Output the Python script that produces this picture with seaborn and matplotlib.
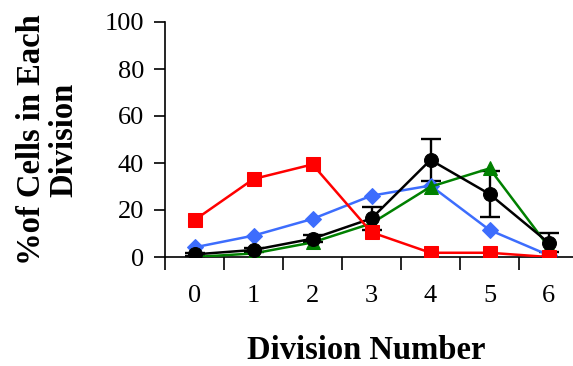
import matplotlib
matplotlib.use("Agg")
import matplotlib.pyplot as plt
import seaborn as sns
import pandas as pd
import numpy as np

divisions = [0, 1, 2, 3, 4, 5, 6]
tick_labels = ["0", "1", "2", "3", "4", "5", "6"]
blue_vals = [4.1, 9.1, 16.2, 26.1, 30.4, 11.5, 0.8]
green_vals = [0.0, 1.5, 6.2, 14.3, 29.9, 37.7, 4.4]
black_vals = [1.1, 3.0, 7.8, 16.4, 41.3, 26.8, 6.1]
black_err = [0.5, 0.8, 1.5, 4.7, 8.8, 9.8, 4.0]
red_vals = [15.7, 33.2, 39.4, 10.5, 1.8, 1.8, 0.0]

series = [
    ("blue", blue_vals, "#3d6dfd", "D", 8.5),
    ("green", green_vals, "#008000", "^", 10),
    ("black", black_vals, "#000000", "o", 10),
    ("red", red_vals, "#ff0000", "s", 9.5),
]

sns.set_style("ticks")
plt.rcParams["font.family"] = ["Liberation Serif", "DejaVu Serif"]
plt.rcParams["text.color"] = "black"
plt.rcParams["axes.labelcolor"] = "black"
plt.rcParams["xtick.color"] = "black"
plt.rcParams["ytick.color"] = "black"

fig = plt.figure(figsize=(5.73, 3.66), dpi=100)
ax = fig.add_axes([165 / 573, 1 - 257 / 366, 413 / 573, 235 / 366])

for name, vals, color, marker, ms in series:
    df = pd.DataFrame({"Division": divisions, "Pct": vals})
    if name == "black":
        ax.errorbar(divisions, vals, yerr=black_err, fmt="none", ecolor="black",
                    elinewidth=1.7, capsize=7.5, capthick=1.7, zorder=2)
    sns.lineplot(data=df, x="Division", y="Pct", ax=ax, color=color,
                 marker=marker, markersize=ms, markeredgecolor=color,
                 linewidth=1.8, errorbar=None, zorder=3)

ax.set_xlim(-0.5, 6.5)
ax.set_ylim(0, 100)
ax.set_yticks([0, 20, 40, 60, 80, 100])
ax.set_xticks(np.arange(-0.5, 6.5, 1.0))
ax.set_xticklabels([])
ax.set_xticks(divisions, minor=True)
ax.set_xticklabels(tick_labels, minor=True)
ax.tick_params(axis="x", which="minor", length=0, pad=20, labelsize=19)
ax.tick_params(axis="x", which="major", length=9, width=1.2, direction="out")
ax.tick_params(axis="y", length=8, width=1.2, direction="out", pad=7, labelsize=19)
for s in ["top", "right"]:
    ax.spines[s].set_visible(False)
for s in ["left", "bottom"]:
    ax.spines[s].set_linewidth(1.2)
    ax.spines[s].set_color("black")

ax.set_xlabel("Division Number", fontsize=23.5, fontweight="bold", va="center")
ax.xaxis.set_label_coords(0.488, -0.396)
ax.set_ylabel("%of Cells in Each\nDivision", fontsize=23.5, fontweight="bold",
              va="center", linespacing=1.05)
ax.yaxis.set_label_coords(-0.285, 0.498)

fig.savefig("out.png", dpi=100)
